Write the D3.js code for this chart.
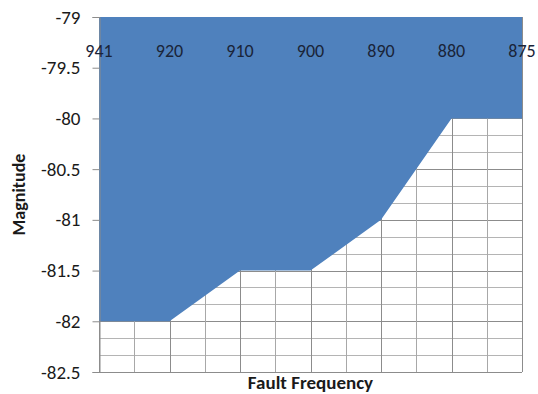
<!DOCTYPE html>
<html>
<head>
<meta charset="utf-8">
<script src="https://cdn.jsdelivr.net/npm/d3@7"></script>
<style>
  html, body { margin: 0; padding: 0; background: #fff; }
  svg { display: block; }
  text { font-family: Carlito, "Liberation Sans", "Open Sans", sans-serif; }
</style>
</head>
<body>
<svg id="chart" width="538" height="394"></svg>
<script>
// Fault frequency categories and the magnitude at each one
const frequencies = ["941", "920", "910", "900", "890", "880", "875"];
const magnitudes = [-82, -82, -81.5, -81.5, -81, -80, -80];
const yTicks = [-79, -79.5, -80, -80.5, -81, -81.5, -82, -82.5];

const W = 538, H = 394;
const m = { left: 99, right: 16, top: 17, bottom: 22 };
const svg = d3.select("#chart");

const x = d3.scalePoint().domain(frequencies).range([m.left, W - m.right]);
const y = d3.scaleLinear().domain([-82.5, -79]).range([H - m.bottom, m.top]);

const x0 = m.left, x1 = W - m.right, y0 = m.top, y1 = H - m.bottom;
const step = x.step();

// minor grid: vertical half-steps, horizontal sixths of a unit
const g = svg.append("g");
const minorY = d3.range(0, 22).map(i => -82.5 + i / 6);
g.selectAll("line.hm").data(minorY).join("line")
  .attr("x1", x0).attr("x2", x1)
  .attr("y1", d => Math.round(y(d)) + 0.5).attr("y2", d => Math.round(y(d)) + 0.5)
  .attr("stroke", "#b4b4b4").attr("stroke-width", 1);
g.selectAll("line.hM").data(yTicks).join("line")
  .attr("x1", x0).attr("x2", x1)
  .attr("y1", d => Math.round(y(d)) + 0.5).attr("y2", d => Math.round(y(d)) + 0.5)
  .attr("stroke", "#8c8c8c").attr("stroke-width", 1);
const vlines = [];
frequencies.forEach((f, i) => {
  vlines.push({ pos: x(f), major: true });
  if (i < frequencies.length - 1) vlines.push({ pos: x(f) + step / 2, major: false });
});
g.selectAll("line.v").data(vlines).join("line")
  .attr("y1", y0).attr("y2", y1)
  .attr("x1", d => Math.round(d.pos) + 0.5).attr("x2", d => Math.round(d.pos) + 0.5)
  .attr("stroke", d => d.major ? "#8c8c8c" : "#a8a8a8").attr("stroke-width", 1);

// area from the top edge (-79) down to each magnitude
const area = d3.area()
  .x((d, i) => x(frequencies[i]))
  .y0(y(-79))
  .y1(d => y(d));
svg.append("path").datum(magnitudes)
  .attr("d", area)
  .attr("fill", "#4f81bd");

// left axis
const yAxis = d3.axisLeft(y).tickValues(yTicks).tickSize(7).tickPadding(12)
  .tickFormat(d => String(d));
const ya = svg.append("g").attr("transform", `translate(${x0 + 0.5},0)`).call(yAxis);
ya.select(".domain").attr("stroke", "#8c8c8c");
ya.selectAll(".tick line").attr("stroke", "#8c8c8c");
ya.selectAll(".tick text").attr("font-size", 19).attr("fill", "#1a1a1a");

// category labels sit along the -79 axis, drawn inside the plot
svg.append("g").selectAll("text").data(frequencies).join("text")
  .attr("x", d => x(d)).attr("y", y(-79) + 40)
  .attr("text-anchor", "middle")
  .attr("font-size", 18).attr("fill", "#1a2438")
  .text(d => d);

// axis titles
svg.append("text")
  .attr("transform", `translate(25,${(y0 + y1) / 2}) rotate(-90)`)
  .attr("text-anchor", "middle").attr("font-size", 18).attr("font-weight", "bold")
  .attr("fill", "#1a1a1a").text("Magnitude");
svg.append("text")
  .attr("x", (x0 + x1) / 2).attr("y", 389)
  .attr("text-anchor", "middle").attr("font-size", 19).attr("font-weight", "bold")
  .attr("fill", "#1a1a1a").text("Fault Frequency");
</script>
</body>
</html>
